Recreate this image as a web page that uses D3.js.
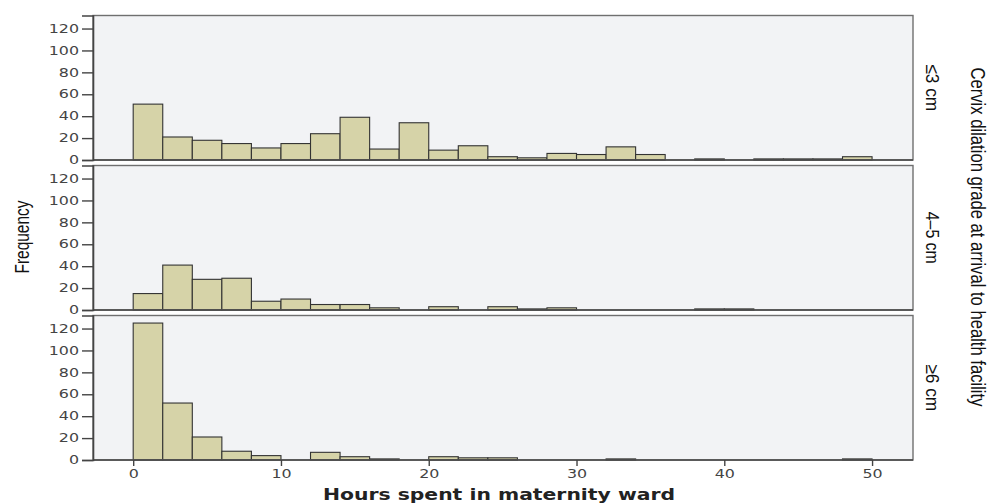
<!DOCTYPE html>
<html>
<head>
<meta charset="utf-8">
<script src="https://cdn.jsdelivr.net/npm/d3@7"></script>
<style>
  body { margin: 0; background: #fff; }
  svg { display: block; }
</style>
</head>
<body>
<div id="chart"></div>
<script>
// histogram bins, 2 hours wide
var binStarts = [0, 2, 4, 6, 8, 10, 12, 14, 16, 18, 20, 22, 24, 26, 28, 30, 32, 34, 36, 38, 40, 42, 44, 46, 48];
var binWidth = 2;

var dilationLabels = ["≤3 cm", "4–5 cm", "≥6 cm"];

// frequencies, one per bin
var freqLow  = [51, 21, 18, 15, 11, 15, 24, 39, 10, 34, 9, 13, 3, 2, 6, 5, 12, 5, 0, 1, 0, 1, 1, 1, 3];
var freqMid  = [15, 41, 28, 29, 8, 10, 5, 5, 2, 0, 3, 0, 3, 1, 2, 0, 0, 0, 0, 1, 1, 0, 0, 0, 0];
var freqHigh = [125, 52, 21, 8, 4, 0, 7, 3, 1, 0, 3, 2, 2, 0, 0, 0, 1, 0, 0, 0, 0, 0, 0, 0, 1];

var yTicks = [0, 20, 40, 60, 80, 100, 120];
var xTicks = [0, 10, 20, 30, 40, 50];

var w = 988, h = 503;
var left = 93, right = 913;
var panelTops = [15.5, 165.5, 315.5];
var panelH = 144.5;

var svg = d3.select("#chart").append("svg")
  .attr("width", w)
  .attr("height", h);

var x = d3.scaleLinear().domain([-2.72, 52.77]).range([left, right]);
var y = d3.scaleLinear().domain([0, 131.9]).range([panelH, 0]);

// the source picture is stretched sideways, so widen the number labels
function stretch(f) {
  return function() {
    var len = this.getComputedTextLength();
    d3.select(this).attr("textLength", len * f).attr("lengthAdjust", "spacingAndGlyphs");
  };
}

var series = [freqLow, freqMid, freqHigh];
var facetLen = [47, 52, 47];

series.forEach(function(vals, p) {
  var g = svg.append("g").attr("transform", "translate(0," + panelTops[p] + ")");

  g.append("rect")
    .attr("x", left).attr("y", 0)
    .attr("width", right - left).attr("height", panelH)
    .attr("fill", "#f2f3f5");

  var bins = binStarts.map(function(s, i) { return { x0: s, x1: s + binWidth, v: vals[i] }; })
    .filter(function(d) { return d.v > 0; });

  g.selectAll("rect.bar")
    .data(bins)
    .enter()
    .append("rect")
    .attr("class", "bar")
    .attr("x", function(d) { return x(d.x0); })
    .attr("width", function(d) { return x(d.x1) - x(d.x0); })
    .attr("y", function(d) { return y(d.v); })
    .attr("height", function(d) { return y(0) - y(d.v); })
    .attr("fill", "#d6d3a8")
    .attr("stroke", "#333")
    .attr("stroke-width", 1.1);

  g.append("rect")
    .attr("x", left).attr("y", 0)
    .attr("width", right - left).attr("height", panelH)
    .attr("fill", "none")
    .attr("stroke", "#6f6f6f")
    .attr("stroke-width", 1.4);

  var yAxis = g.append("g")
    .attr("transform", "translate(" + left + ",0)")
    .call(d3.axisLeft(y).tickValues(yTicks).tickSize(11).tickPadding(3));
  yAxis.select(".domain").attr("stroke", "#444").attr("stroke-width", 1.6);
  yAxis.selectAll(".tick line").attr("stroke", "#444").attr("stroke-width", 1.4);
  yAxis.selectAll("text")
    .attr("font-family", "DejaVu Sans")
    .attr("font-size", 11.5)
    .attr("fill", "#444")
    .each(stretch(1.38));

  // baseline at zero
  g.append("line")
    .attr("x1", left).attr("x2", right)
    .attr("y1", y(0)).attr("y2", y(0))
    .attr("stroke", "#444").attr("stroke-width", 1.4);

  var cy = panelTops[p] + panelH / 2;
  svg.append("text")
    .attr("x", 926)
    .attr("y", cy)
    .attr("transform", "rotate(90,926," + cy + ")")
    .attr("text-anchor", "middle")
    .attr("font-family", "Liberation Sans")
    .attr("font-size", 18.5)
    .attr("fill", "#111")
    .attr("textLength", facetLen[p])
    .attr("lengthAdjust", "spacingAndGlyphs")
    .text(dilationLabels[p]);

  if (p == 2) {
    var xAxis = g.append("g")
      .attr("transform", "translate(0," + panelH + ")")
      .call(d3.axisBottom(x).tickValues(xTicks).tickSize(6).tickPadding(4));
    xAxis.select(".domain").remove();
    xAxis.selectAll(".tick line").attr("stroke", "#444").attr("stroke-width", 1.4);
    xAxis.selectAll("text")
      .attr("font-family", "DejaVu Sans")
      .attr("font-size", 11.5)
      .attr("fill", "#444")
      .each(stretch(1.38));
  }
});

svg.append("text")
  .attr("x", 499).attr("y", 500)
  .attr("text-anchor", "middle")
  .attr("font-family", "DejaVu Sans")
  .attr("font-weight", "bold")
  .attr("font-size", 16)
  .attr("fill", "#222")
  .attr("textLength", 352)
  .attr("lengthAdjust", "spacingAndGlyphs")
  .text("Hours spent in maternity ward");

svg.append("text")
  .attr("x", 29).attr("y", 237)
  .attr("transform", "rotate(-90,29,237)")
  .attr("text-anchor", "middle")
  .attr("font-family", "Liberation Sans")
  .attr("font-size", 21)
  .attr("fill", "#111")
  .attr("textLength", 73)
  .attr("lengthAdjust", "spacingAndGlyphs")
  .text("Frequency");

svg.append("text")
  .attr("x", 971).attr("y", 237)
  .attr("transform", "rotate(90,971,237)")
  .attr("text-anchor", "middle")
  .attr("font-family", "Liberation Sans")
  .attr("font-size", 19.5)
  .attr("fill", "#111")
  .attr("textLength", 339)
  .attr("lengthAdjust", "spacingAndGlyphs")
  .text("Cervix dilation grade at arrival to health facility");
</script>
</body>
</html>
